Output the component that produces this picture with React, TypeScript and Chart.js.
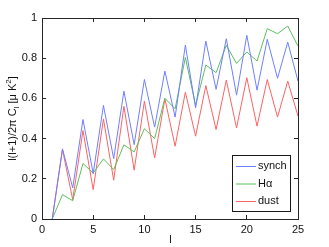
import React, { useEffect, useRef } from "react";
import { Chart, registerables } from "chart.js";

Chart.register(...registerables);

const ells = [1, 2, 3, 4, 5, 6, 7, 8, 9, 10, 11, 12, 13, 14, 15, 16, 17, 18, 19, 20, 21, 22, 23, 24, 25];
const synch = [0, 0.349, 0.155, 0.495, 0.226, 0.565, 0.30, 0.636, 0.37, 0.694, 0.457, 0.736, 0.507, 0.865, 0.553, 0.885, 0.645, 0.897, 0.616, 0.914, 0.641, 0.894, 0.70, 0.880, 0.686];
const halpha = [0, 0.121, 0.091, 0.276, 0.229, 0.299, 0.246, 0.369, 0.334, 0.449, 0.40, 0.601, 0.548, 0.804, 0.565, 0.766, 0.728, 0.864, 0.774, 0.831, 0.786, 0.947, 0.922, 0.960, 0.860];
const dust = [0, 0.346, 0.096, 0.44, 0.146, 0.498, 0.193, 0.561, 0.243, 0.586, 0.304, 0.598, 0.362, 0.631, 0.412, 0.664, 0.445, 0.691, 0.453, 0.703, 0.462, 0.694, 0.507, 0.686, 0.512];
const seriesNames = ["synch", "H\u03b1", "dust"];
const seriesColors = ["#6f7fff", "#5cc05c", "#ff6262"];
const xTicks = [0, 5, 10, 15, 20, 25];
const yTicks = [0, 0.2, 0.4, 0.6, 0.8, 1];

const FONT = "'Liberation Sans', Arial, sans-serif";
const AXIS = "#262626";

const boxPlugin = {
  id: "matlabBox",
  afterDraw(chart: any) {
    const ctx = chart.ctx;
    const xs = chart.scales.x;
    const ys = chart.scales.y;
    const L = Math.round(xs.getPixelForValue(0));
    const R = Math.round(xs.getPixelForValue(25));
    const T = Math.round(ys.getPixelForValue(1));
    const B = Math.round(ys.getPixelForValue(0));
    ctx.save();
    ctx.fillStyle = AXIS;
    ctx.fillRect(L, T, R - L + 1, 1);
    ctx.fillRect(L, B, R - L + 1, 1);
    ctx.fillRect(L, T, 1, B - T + 1);
    ctx.fillRect(R, T, 1, B - T + 1);

    // legend
    const lx = 232.5, ly = 155.5, lw = 58, lh = 56;
    ctx.fillStyle = "#ffffff";
    ctx.fillRect(lx, ly, lw, lh);
    ctx.lineWidth = 1;
    ctx.strokeStyle = "#1a1a1a";
    ctx.strokeRect(lx, ly, lw, lh);
    ctx.font = `11px ${FONT}`;
    ctx.textBaseline = "middle";
    ctx.textAlign = "left";
    const rows = [166, 183.5, 201];
    seriesNames.forEach((n, i) => {
      ctx.strokeStyle = seriesColors[i];
      ctx.beginPath();
      ctx.moveTo(236, rows[i] + 0.5);
      ctx.lineTo(256, rows[i] + 0.5);
      ctx.stroke();
      ctx.fillStyle = "#111";
      ctx.fillText(n, 258, rows[i]);
    });

    // x label
    ctx.fillStyle = "#111";
    ctx.textAlign = "center";
    ctx.textBaseline = "alphabetic";
    ctx.fillText("l", (L + R) / 2 + 0.5, 243);

    // y label
    ctx.translate(16, (T + B) / 2);
    ctx.rotate(-Math.PI / 2);
    const p1 = "l(l+1)/2\u03c0 C";
    const sub = "l";
    const p2 = " [\u03bc K";
    const sup = "2";
    const p3 = "]";
    ctx.font = `11px ${FONT}`;
    const w1 = ctx.measureText(p1).width;
    const w3 = ctx.measureText(p2).width;
    const w5 = ctx.measureText(p3).width;
    ctx.font = `8px ${FONT}`;
    const w2 = ctx.measureText(sub).width;
    const w4 = ctx.measureText(sup).width;
    const total = w1 + w2 + w3 + w4 + w5;
    let x = -total / 2;
    ctx.textAlign = "left";
    ctx.font = `11px ${FONT}`;
    ctx.fillText(p1, x, 0);
    x += w1;
    ctx.font = `8px ${FONT}`;
    ctx.fillText(sub, x, 3);
    x += w2;
    ctx.font = `11px ${FONT}`;
    ctx.fillText(p2, x, 0);
    x += w3;
    ctx.font = `8px ${FONT}`;
    ctx.fillText(sup, x, -5);
    x += w4;
    ctx.font = `11px ${FONT}`;
    ctx.fillText(p3, x, 0);
    ctx.restore();
  },
};

const gridOpts = {
  display: true,
  drawOnChartArea: false,
  drawTicks: true,
  tickLength: -4,
  color: AXIS,
  lineWidth: 1,
};
const borderOpts = { display: true, color: AXIS, width: 1 };

export default function App() {
  const ref = useRef<HTMLCanvasElement>(null);
  useEffect(() => {
    document.body.style.margin = "0";
    const c = ref.current!;
    const datas = [synch, halpha, dust];
    const chart = new Chart(c, {
      type: "line",
      data: {
        datasets: datas.map((d, i) => ({
          label: seriesNames[i],
          data: d.map((v, j) => ({ x: ells[j], y: v })),
          borderColor: seriesColors[i],
          borderWidth: 1,
          pointRadius: 0,
          tension: 0,
          fill: false,
        })),
      },
      options: {
        animation: false,
        responsive: false,
        maintainAspectRatio: false,
        layout: { padding: { left: 0, top: 18, right: 31, bottom: 0 } },
        plugins: { legend: { display: false }, tooltip: { enabled: false } },
        scales: {
          x: {
            type: "linear",
            position: "bottom",
            min: 0,
            max: 25,
            afterBuildTicks: (s: any) => {
              s.ticks = xTicks.map((v) => ({ value: v }));
            },
            afterFit: (s: any) => {
              s.height = 28;
            },
            grid: gridOpts,
            border: borderOpts,
            ticks: { color: "#111", font: { family: FONT, size: 11 }, padding: 8, maxRotation: 0 },
          },
          x2: {
            type: "linear",
            position: "top",
            min: 0,
            max: 25,
            afterBuildTicks: (s: any) => {
              s.ticks = xTicks.map((v) => ({ value: v }));
            },
            afterFit: (s: any) => {
              s.height = 0;
            },
            grid: gridOpts,
            border: borderOpts,
            ticks: { display: false },
          },
          y: {
            type: "linear",
            position: "left",
            min: 0,
            max: 1,
            afterBuildTicks: (s: any) => {
              s.ticks = yTicks.map((v) => ({ value: v }));
            },
            afterFit: (s: any) => {
              s.width = 42;
            },
            grid: gridOpts,
            border: borderOpts,
            ticks: {
              color: "#111",
              font: { family: FONT, size: 11 },
              padding: 9,
              callback: (v: any) => String(Math.round(v * 10) / 10),
            },
          },
          y2: {
            type: "linear",
            position: "right",
            min: 0,
            max: 1,
            afterBuildTicks: (s: any) => {
              s.ticks = yTicks.map((v) => ({ value: v }));
            },
            afterFit: (s: any) => {
              s.width = 0;
            },
            grid: gridOpts,
            border: borderOpts,
            ticks: { display: false },
          },
        },
      },
      plugins: [boxPlugin],
    });
    return () => chart.destroy();
  }, []);
  return <canvas ref={ref} width={329} height={247} style={{ display: "block" }} />;
}
